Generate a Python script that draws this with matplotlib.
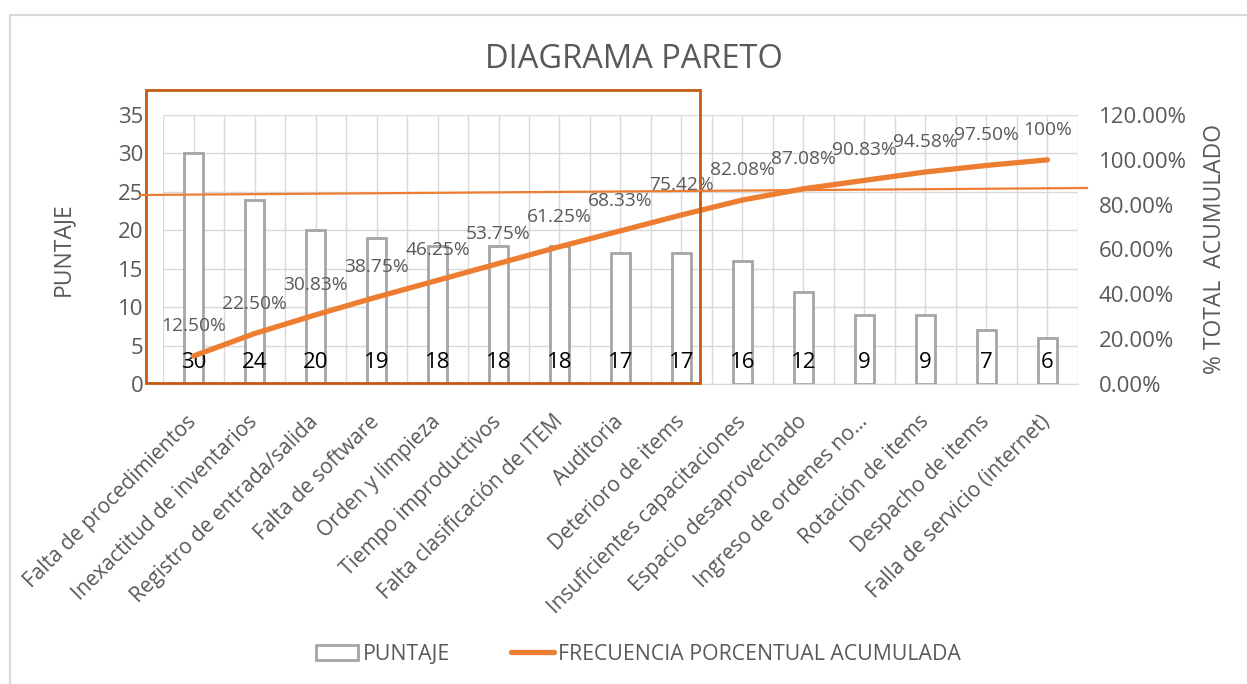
import matplotlib.pyplot as plt
import numpy as np
from matplotlib.lines import Line2D
from matplotlib.patches import Rectangle, Patch

categorias = ["Falta de procedimientos", "Inexactitud de inventarios",
              "Registro de entrada/salida", "Falta de software",
              "Orden y limpieza", "Tiempo improductivos",
              "Falta clasificación de ITEM", "Auditoria", "Deterioro de items",
              "Insuficientes capacitaciones", "Espacio desaprovechado",
              "Ingreso de ordenes no…", "Rotación de items",
              "Despacho de items", "Falla de servicio (internet)"]
puntaje = [30, 24, 20, 19, 18, 18, 18, 17, 17, 16, 12, 9, 9, 7, 6]
acumulado = [12.50, 22.50, 30.83, 38.75, 46.25, 53.75, 61.25, 68.33, 75.42,
             82.08, 87.08, 90.83, 94.58, 97.50, 100.0]
etiquetas_pct = ["12.50%", "22.50%", "30.83%", "38.75%", "46.25%", "53.75%",
                 "61.25%", "68.33%", "75.42%", "82.08%", "87.08%", "90.83%",
                 "94.58%", "97.50%", "100%"]

plt.rcParams['font.family'] = ['Open Sans', 'DejaVu Sans']
gris = "#595959"
naranja = "#ED7D31"
W, H = 1247, 684

fig = plt.figure(figsize=(W / 100, H / 100), dpi=100)
ax = fig.add_axes([163 / W, 1 - 384 / H, (1078 - 163) / W, (384 - 115) / H])
ax2 = ax.twinx()

x = np.arange(len(categorias))
ax.bar(x, puntaje, width=0.3, color="white", edgecolor="#A5A5A5",
       linewidth=2, zorder=3)
ax.set_xlim(-0.5, len(categorias) - 0.5)
ax.set_ylim(0, 35)
ax.set_yticks(range(0, 36, 5))
ax.set_xticks(x)
ax.set_xticks(np.arange(-0.5, len(categorias), 1), minor=True)
ax.grid(True, which="both", color="#D9D9D9", linewidth=1, zorder=0)
ax.set_axisbelow(True)
ax.set_xticklabels(categorias, rotation=45, ha="right", va="center",
                   rotation_mode="anchor", fontsize=15, color=gris)
ax.tick_params(axis="x", which="both", length=0, pad=25)
ax.tick_params(axis="y", length=0, labelsize=16, labelcolor=gris, pad=14)
for s in ax.spines.values():
    s.set_visible(False)
ax.spines["bottom"].set_visible(True)
ax.spines["bottom"].set_color("#D9D9D9")
ax.set_ylabel("PUNTAJE", fontsize=16.5, color=gris, labelpad=31)

for xi, v in zip(x, puntaje):
    ax.annotate(str(v), (xi, 0), xytext=(0, 22), textcoords="offset pixels",
                ha="center", va="center", fontsize=16, color="black",
                zorder=6)

ax2.plot(x, acumulado, color=naranja, linewidth=3.8, solid_capstyle="round",
         zorder=4)
ax2.set_ylim(0, 120)
ax2.set_yticks(range(0, 121, 20))
ax2.set_yticklabels([f"{v:.2f}%" for v in range(0, 121, 20)])
ax2.tick_params(axis="y", length=0, labelsize=16, labelcolor=gris, pad=15)
for s in ax2.spines.values():
    s.set_visible(False)
ax2.set_ylabel("% TOTAL  ACUMULADO", fontsize=16.5, color=gris, labelpad=12)
for xi, v, t in zip(x, acumulado, etiquetas_pct):
    ax2.annotate(t, (xi, v), xytext=(0, 30), textcoords="offset pixels",
                 ha="center", va="center", fontsize=13.8, color=gris)

fig.text(634 / W, 1 - 60 / H, "DIAGRAMA PARETO", ha="center", va="center",
         fontsize=23.5, color=gris)

# recuadro y linea de referencia dibujados a mano
fig.add_artist(Rectangle((146 / W, 1 - 383 / H), (700 - 146) / W, (383 - 90) / H,
                         transform=fig.transFigure, fill=False,
                         edgecolor="#C55A11", linewidth=2, zorder=10))
fig.add_artist(Line2D([140 / W, 1087 / W], [1 - 195 / H, 1 - 188 / H],
                      transform=fig.transFigure, color=naranja, linewidth=1.6,
                      zorder=10))
fig.add_artist(Rectangle((10 / W, -0.1), 1.2, 1 - 15 / H + 0.1,
                         transform=fig.transFigure, fill=False,
                         edgecolor="#D9D9D9", linewidth=1.5))

handles = [Patch(facecolor="white", edgecolor="#A5A5A5", linewidth=2),
           Line2D([], [], color=naranja, linewidth=3.8, solid_capstyle="round")]
fig.legend(handles, ["PUNTAJE", "FRECUENCIA PORCENTUAL ACUMULADA"],
           loc="center", bbox_to_anchor=(0.512, 1 - 654 / H), ncol=2,
           frameon=False, fontsize=15.3, labelcolor=gris, handlelength=2.0,
           handletextpad=0.2, columnspacing=2.9)

fig.savefig("out.png", dpi=100)
